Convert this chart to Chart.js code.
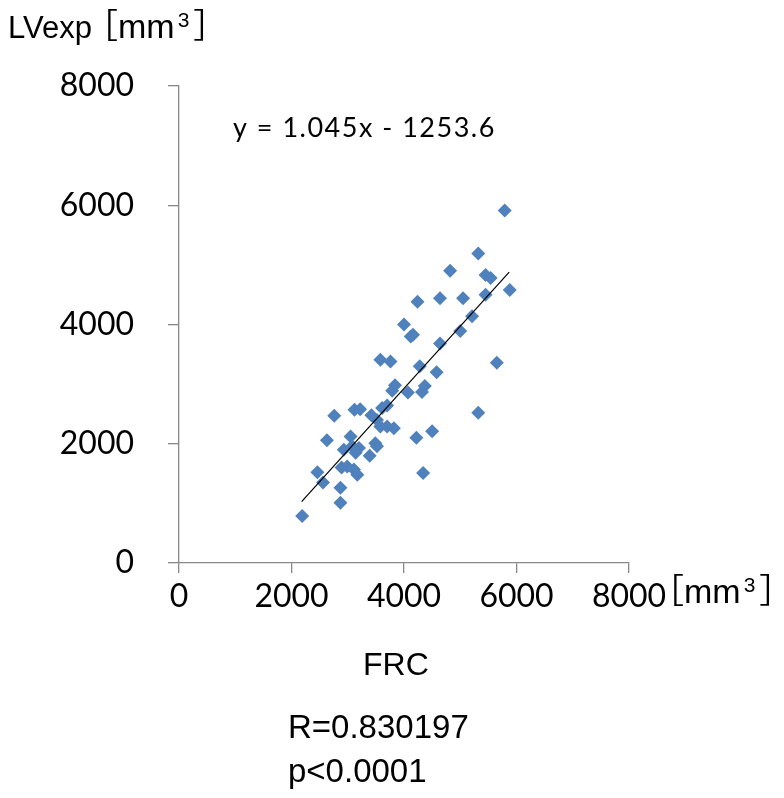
<!DOCTYPE html>
<html>
<head>
<meta charset="utf-8">
<script src="https://cdn.jsdelivr.net/npm/chart.js@4"></script>
<style>
html,body{margin:0;padding:0;background:#fff;}
#wrap{width:784px;height:798px;}
</style>
</head>
<body>
<div id="wrap"><canvas id="c" width="784" height="798"></canvas></div>
<script>
// FRC (x) values, mm^3
const frcValues = [5790,5320,4820,5450,5540,5880,4640,5050,5450,4240,5210,5000,4000,4120,4160,4640,3580,3760,4280,5650,4580,3840,3790,4070,4370,4320,2760,3120,3220,3420,3610,3700,3520,3580,3700,3820,4500,4220,5320,2630,3050,2930,3080,3200,3490,3520,3390,3140,2890,2990,3110,3170,2460,2560,4340,2870,2870,2190];
// LVexp (y) values, mm^3
const lvexpValues = [5910,5190,4900,4830,4780,4580,4440,4440,4500,4380,4140,3890,4000,3800,3830,3680,3410,3380,3300,3360,3200,2980,2890,2860,2970,2870,2470,2570,2580,2480,2600,2640,2400,2290,2290,2260,2210,2100,2520,2060,2120,1900,1960,1930,2010,1960,1800,1850,1600,1620,1570,1480,1520,1350,1510,1260,1010,790];
// Trend line end points
const trendX = [2180, 5870];
const trendY = [1030, 4880];
// Tick labels
const tickValues = [0, 2000, 4000, 6000, 8000];
const tickLabels = ["0", "2000", "4000", "6000", "8000"];
// Texts
const yAxisLabel = "LVexp";
const unitParts = ["［", "mm", "3", "］"];
const xAxisLabel = "FRC";
const equationText = "y = 1.045x - 1253.6";
const statsLines = ["R=0.830197", "p<0.0001"];

const pts = frcValues.map((x, i) => ({x: x, y: lvexpValues[i]}));
const trend = trendX.map((x, i) => ({x: x, y: trendY[i]}));

function drawUnit(ctx, x, baseline) {
  const main = '34px "Liberation Sans", "Noto Sans CJK JP", sans-serif';
  const sup = '21px "Liberation Sans", sans-serif';
  ctx.font = main;
  ctx.fillText(unitParts[0], x, baseline);
  x += ctx.measureText(unitParts[0]).width;
  ctx.fillText(unitParts[1], x, baseline);
  x += ctx.measureText(unitParts[1]).width + 3;
  ctx.font = sup;
  ctx.fillText(unitParts[2], x, baseline - 11);
  x += ctx.measureText(unitParts[2]).width + 4;
  ctx.font = main;
  ctx.fillText(unitParts[3], x, baseline);
}

const textPlugin = {
  id: 'texts',
  afterDraw(chart) {
    const ctx = chart.ctx;
    ctx.save();
    ctx.fillStyle = '#000';
    ctx.textBaseline = 'alphabetic';
    ctx.textAlign = 'left';
    ctx.font = '31px "Liberation Sans", Arial, sans-serif';
    ctx.fillText(yAxisLabel, 8, 38);
    drawUnit(ctx, 84, 38);
    drawUnit(ctx, 650, 603);
    ctx.font = '32px "Liberation Sans", Arial, sans-serif';
    ctx.fillText(xAxisLabel, 363, 675);
    ctx.font = '33px "Liberation Sans", Arial, sans-serif';
    ctx.fillText(statsLines[0], 288, 738);
    ctx.fillText(statsLines[1], 288, 782);
    ctx.font = '27px Lato, "Open Sans", sans-serif';
    try { ctx.letterSpacing = '1.5px'; } catch (e) {}
    ctx.fillText(equationText, 233, 137);
    ctx.restore();
  }
};

new Chart(document.getElementById('c'), {
  type: 'scatter',
  data: {
    datasets: [
      {
        label: 'LVexp',
        data: pts,
        pointStyle: 'rectRot',
        pointRadius: 7,
        pointHoverRadius: 7,
        backgroundColor: '#4F81BD',
        borderColor: '#4F81BD',
        borderWidth: 0,
        order: 2
      },
      {
        label: 'trend',
        type: 'line',
        data: trend,
        borderColor: '#000',
        borderWidth: 1.2,
        pointRadius: 0,
        fill: false,
        order: 1
      }
    ]
  },
  options: {
    responsive: false,
    animation: false,
    events: [],
    layout: {padding: {top: 86, right: 155, left: 0, bottom: 0}},
    plugins: {legend: {display: false}, tooltip: {enabled: false}, title: {display: false}},
    scales: {
      x: {
        type: 'linear',
        min: 0, max: 8000,
        afterBuildTicks(scale) { scale.ticks = tickValues.map(v => ({value: v})); },
        afterFit(scale) { scale.height = 235; },
        ticks: {color: '#000', font: {family: 'Lato', size: 32}, padding: 4, maxRotation: 0,
                callback: (v) => tickLabels[tickValues.indexOf(v)]},
        grid: {display: true, drawOnChartArea: false, drawTicks: true, tickLength: 10, color: '#888', lineWidth: 1.3},
        border: {display: true, color: '#888', width: 1.3}
      },
      y: {
        type: 'linear',
        min: 0, max: 8000,
        afterBuildTicks(scale) { scale.ticks = tickValues.map(v => ({value: v})); },
        afterFit(scale) { scale.width = 179; },
        ticks: {color: '#000', font: {family: 'Lato', size: 32}, padding: 34,
                callback: (v) => tickLabels[tickValues.indexOf(v)]},
        grid: {display: true, drawOnChartArea: false, drawTicks: true, tickLength: 11, color: '#888', lineWidth: 1.3},
        border: {display: true, color: '#888', width: 1.3}
      }
    }
  },
  plugins: [textPlugin]
});
</script>
</body>
</html>
